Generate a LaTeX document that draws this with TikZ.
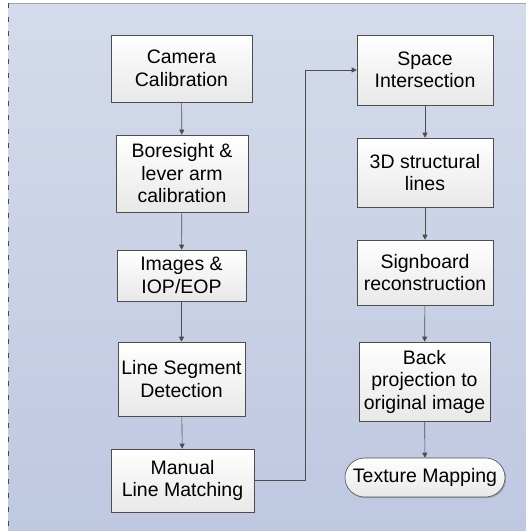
\documentclass[tikz,border=0pt]{standalone}
\usepackage{fontspec}
\setmainfont{Liberation Sans}
\usetikzlibrary{arrows.meta, shapes.misc, shadows}
\definecolor{bgtop}{HTML}{D4DBEB}
\definecolor{bgbot}{HTML}{BFC8E1}
\definecolor{edge}{HTML}{4D4D4D}
\tikzset{x=1pt, y=-1pt, >={Triangle[length=5pt, width=5pt]},
  flowbox/.style={draw=edge, semithick, top color=white, bottom color=gray!18, align=center, inner sep=0pt,
    font=\fontsize{19.5}{22.5}\selectfont, drop shadow={shadow xshift=1.2pt, shadow yshift=-1.2pt, fill=black!45, opacity=0.6}},
  endbox/.style={flowbox, rounded rectangle},
  link/.style={draw=edge, semithick, ->}}

\begin{document}
\begin{tikzpicture}
\useasboundingbox (0, 0) rectangle (526, 531);
\fill[top color=bgtop, bottom color=bgbot] (8, 3) rectangle (526, 531);
\draw[gray!70, thin] (8, 3) -- (526, 3);
\draw[gray!60!black, thin, dash pattern=on 5pt off 9pt] (8, 3) -- (8, 531);
% left column
\node[flowbox, minimum width=141, minimum height=67] (camera) at (181.5, 68.5) {Camera\\Calibration};
\node[flowbox, minimum width=132, minimum height=77] (boresight) at (182, 173.5) {Boresight \&\\lever arm\\calibration};
\node[flowbox, minimum width=129, minimum height=51] (images) at (181.5, 275.5) {Images \&\\IOP/EOP};
\node[flowbox, minimum width=127, minimum height=74] (detect) at (181.5, 379) {Line Segment\\Detection};
\node[flowbox, minimum width=143, minimum height=63] (matching) at (182.5, 480.5) {Manual\\Line Matching};
% right column
\node[flowbox, minimum width=136, minimum height=70] (intersect) at (425, 70) {Space\\Intersection};
\node[flowbox, minimum width=136, minimum height=69] (lines3d) at (425, 172.5) {3D structural\\lines};
\node[flowbox, minimum width=136, minimum height=65] (signboard) at (425, 272.5) {Signboard\\reconstruction};
\node[flowbox, minimum width=131, minimum height=79] (backproj) at (424.5, 381.5) {Back\\projection to\\original image};
\node[endbox, minimum width=160, minimum height=39] (texture) at (425, 477.5) {Texture Mapping};
\coordinate (turn) at (305, 0);
\draw[link] (camera) -- (boresight);
\draw[link] (boresight) -- (images);
\draw[link] (images) -- (detect);
\draw[link] (detect) -- (matching);
\draw[link] (matching.east) -- (turn |- matching.east) -- (turn |- intersect.west) -- (intersect.west);
\draw[link] (intersect) -- (lines3d);
\draw[link] (lines3d) -- (signboard);
\draw[link] (signboard) -- (backproj);
\draw[link] (backproj) -- (texture);
\end{tikzpicture}
\end{document}
